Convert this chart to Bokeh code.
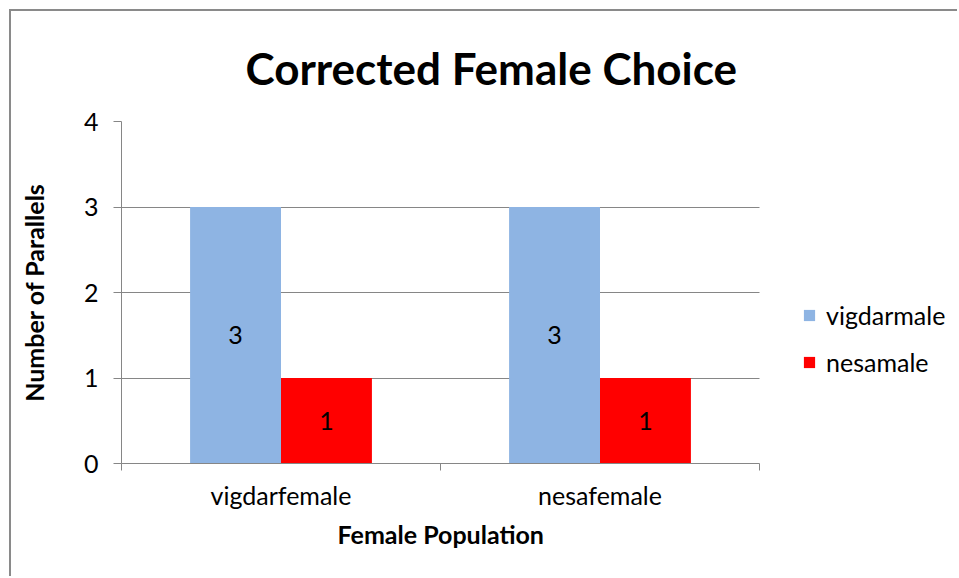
from bokeh.plotting import figure
from bokeh.models import ColumnDataSource, Range1d, FixedTicker, LabelSet, Title
from bokeh.transform import dodge
from bokeh.core.properties import value
from bokeh.embed import file_html
from bokeh.resources import INLINE

# ---- data ----
categories = ["vigdarfemale", "nesafemale"]
series_names = ["vigdarmale", "nesamale"]
vigdarmale = [3, 3]
nesamale = [1, 1]
y_ticks = [0, 1, 2, 3, 4]

title_text = "Corrected Female Choice"
x_title = "Female Population"
y_title = "Number of Parallels"

FONT = "Lato"
FS = "25px"
GRAY = "#868686"
BLUE = "#8EB4E3"
RED = "#FF0000"

# layout: the plotting area of the bars is DATA_W px wide, the frame extends to hold the legend
FRAME_W = 836
DATA_W = 638
n = len(categories)

pos = [i + 0.5 for i in range(n)]
source = ColumnDataSource(dict(
    pos=pos,
    vigdarmale=vigdarmale,
    nesamale=nesamale,
    vig_mid=[v / 2 for v in vigdarmale],
    nes_mid=[v / 2 for v in nesamale],
    vig_lbl=[str(v) for v in vigdarmale],
    nes_lbl=[str(v) for v in nesamale],
))

p = figure(x_range=Range1d(0, n * FRAME_W / DATA_W), y_range=Range1d(0, 4),
           frame_width=FRAME_W, frame_height=342, output_backend="svg", toolbar_location=None,
           min_border_left=110, min_border_right=0, min_border_top=110, min_border_bottom=113)
p.styles = {"margin-left": "9px", "margin-top": "9px",
            "border-left": "2px solid #8a8a8a", "border-top": "2px solid #8a8a8a"}
p.outline_line_color = None
p.background_fill_color = "white"
p.border_fill_color = "white"

bw = 0.285
off = bw / 2
p.vbar(x=dodge("pos", -off), top="vigdarmale", width=bw, source=source,
       fill_color=BLUE, line_color=None, legend_label=series_names[0])
p.vbar(x=dodge("pos", off), top="nesamale", width=bw, source=source,
       fill_color=RED, line_color=None, legend_label=series_names[1])

for xoff, ycol, tcol in [(-off, "vig_mid", "vig_lbl"), (off, "nes_mid", "nes_lbl")]:
    ls = LabelSet(x=dodge("pos", xoff), y=ycol, text=tcol, source=source,
                  text_align="center", text_baseline="middle", text_font=value(FONT),
                  text_font_size=FS, text_color="black")
    p.add_layout(ls)

# y axis
yax = p.yaxis[0]
yax.ticker = FixedTicker(ticks=y_ticks)
yax.minor_tick_line_color = None
yax.major_tick_in = 0
yax.major_tick_out = 8
yax.major_tick_line_color = GRAY
yax.axis_line_color = GRAY
yax.major_label_standoff = 15
yax.major_label_text_font = FONT
yax.major_label_text_font_size = FS
yax.major_label_text_color = "black"
yax.axis_label = y_title
yax.axis_label_text_font = FONT
yax.axis_label_text_font_style = "bold"
yax.axis_label_text_font_size = FS
yax.axis_label_text_color = "black"
yax.axis_label_standoff = 32

p.ygrid.grid_line_color = GRAY
p.ygrid.ticker = FixedTicker(ticks=y_ticks)
p.ygrid.cross_bounds = (0, n)
p.xgrid.grid_line_color = None

# x axis: labels at category centres, tick marks at category boundaries
xax = p.xaxis[0]
xax.bounds = (0, n)
xax.ticker = FixedTicker(ticks=pos, minor_ticks=list(range(n + 1)))
xax.major_label_overrides = {pp: c for pp, c in zip(pos, categories)}
xax.major_tick_line_color = None
xax.major_tick_in = 0
xax.major_tick_out = 0
xax.minor_tick_in = 0
xax.minor_tick_out = 7
xax.minor_tick_line_color = GRAY
xax.axis_line_color = GRAY
xax.major_label_standoff = 9
xax.major_label_text_font = FONT
xax.major_label_text_font_size = FS
xax.major_label_text_color = "black"

# x axis title, centred under the bar area
x_title_obj = Title(text=x_title, align="left", offset=216, standoff=8,
                    text_font=FONT, text_font_style="bold", text_font_size=FS,
                    text_color="black")
p.add_layout(x_title_obj, "below")

# title
p.title.text = title_text
p.title.align = "left"
p.title.offset = 124
p.title.standoff = 56
p.title.text_font = FONT
p.title.text_font_style = "bold"
p.title.text_font_size = "44px"
p.title.text_color = "black"

lg = p.legend[0]
lg.location = (681, 86)
lg.padding = 0
lg.margin = 0
lg.border_line_color = None
lg.background_fill_alpha = 0
lg.glyph_width = 14
lg.glyph_height = 14
lg.label_height = 30
lg.label_standoff = 10
lg.spacing = 17
lg.label_text_font = FONT
lg.label_text_font_size = FS
lg.label_text_color = "black"

open("out.html", "w").write(file_html(p, INLINE))
